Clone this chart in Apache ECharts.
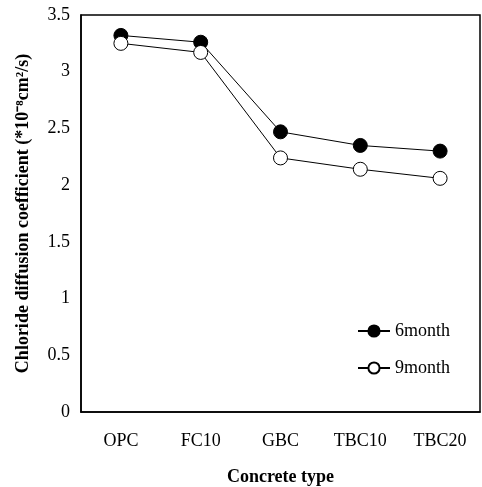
<!DOCTYPE html>
<html>
<head>
<meta charset="utf-8">
<script src="https://cdn.jsdelivr.net/npm/echarts@6/dist/echarts.min.js"></script>
<style>
  html, body { margin: 0; padding: 0; background: #fff; }
  #chart { width: 482px; height: 487px; }
</style>
</head>
<body>
<div id="chart"></div>
<script>
const categories = ['OPC', 'FC10', 'GBC', 'TBC10', 'TBC20'];
const month6 = [3.32, 3.26, 2.47, 2.35, 2.30];
const month9 = [3.25, 3.17, 2.24, 2.14, 2.06];
const yTicks = [0, 0.5, 1, 1.5, 2, 2.5, 3, 3.5];

const font = '"Liberation Serif", "Times New Roman", serif';
const chart = echarts.init(document.getElementById('chart'));

chart.setOption({
    backgroundColor: '#fff',
    animation: false,
    textStyle: { fontFamily: font, color: '#000' },
    grid: {
        left: 81, right: 2, top: 15, bottom: 75,
        containLabel: false,
        outerBoundsMode: 'none',
        show: true, borderColor: '#000', borderWidth: 1.5
    },
    legend: {
        orient: 'vertical',
        left: 357,
        top: 322,
        padding: 0,
        itemWidth: 32,
        itemHeight: 14,
        itemGap: 19,
        textStyle: { fontFamily: font, fontSize: 18, lineHeight: 14, color: '#000' },
        data: ['6month', '9month']
    },
    xAxis: {
        type: 'category',
        data: categories,
        name: 'Concrete type',
        nameLocation: 'middle',
        nameGap: 56,
        nameTextStyle: { fontFamily: font, fontSize: 18, fontWeight: 'bold', color: '#000' },
        axisLine: { lineStyle: { color: '#000', width: 1.5 } },
        axisTick: { inside: true, length: 6, lineStyle: { color: '#000' } },
        axisLabel: { fontFamily: font, fontSize: 18, color: '#000', margin: 20 }
    },
    yAxis: {
        type: 'value',
        min: 0, max: 3.5, interval: 0.5,
        name: 'Chloride diffusion coefficient (*10⁻⁸cm²/s)',
        nameLocation: 'middle',
        nameGap: 49,
        nameTextStyle: { fontFamily: font, fontSize: 18, fontWeight: 'bold', color: '#000' },
        splitLine: { show: false },
        axisLine: { show: true, lineStyle: { color: '#000', width: 1.5 } },
        axisTick: { show: false },
        axisLabel: {
            fontFamily: font, fontSize: 18, color: '#000', margin: 11,
            formatter: v => yTicks.includes(v) ? String(v) : ''
        }
    },
    series: [
        {
            name: '6month',
            type: 'line',
            data: month6,
            symbol: 'circle',
            symbolSize: 14,
            lineStyle: { color: '#000', width: 1 },
            itemStyle: { color: '#000', borderColor: '#000', borderWidth: 1 }
        },
        {
            name: '9month',
            type: 'line',
            data: month9,
            symbol: 'circle',
            symbolSize: 14,
            lineStyle: { color: '#000', width: 1 },
            itemStyle: { color: '#fff', borderColor: '#000', borderWidth: 1 }
        }
    ]
});
</script>
</body>
</html>
